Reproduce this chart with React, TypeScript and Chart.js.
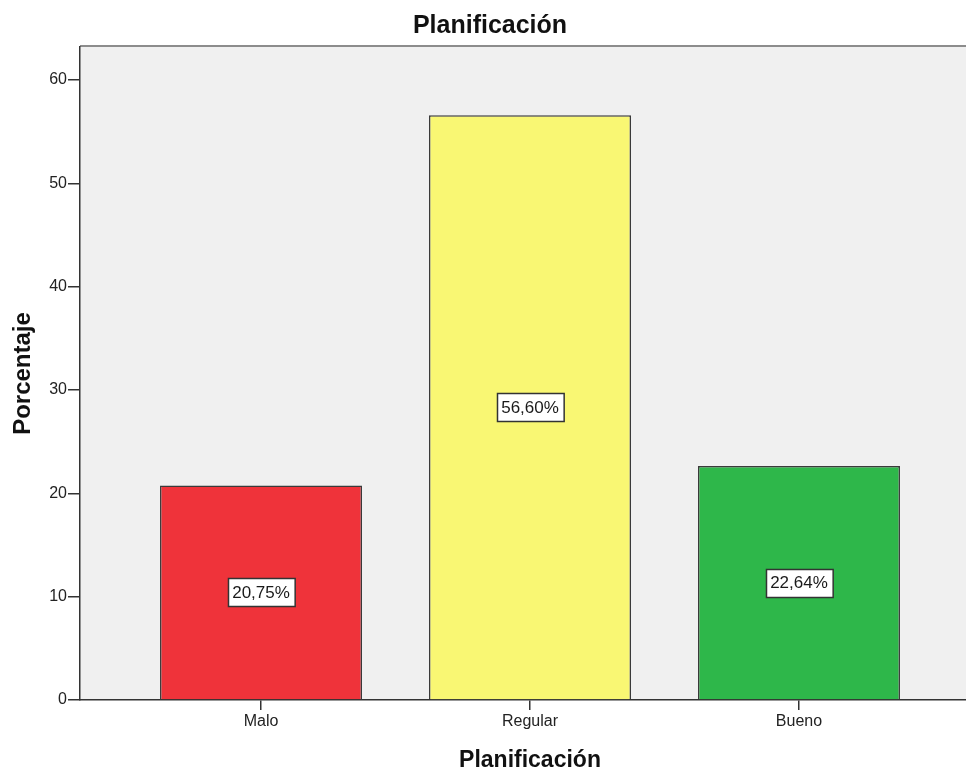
import React, { useEffect, useRef } from "react";
import { Chart, registerables } from "chart.js";

Chart.register(...registerables);

// Planificación: percentage of responses per rating
const categories = ["Malo", "Regular", "Bueno"];
const percentages = [20.75, 56.6, 22.64];
const barColors = ["#EF333A", "#F9F773", "#2EB74A"];
const yTicks = [0, 10, 20, 30, 40, 50, 60];

const FONT = "'Liberation Sans', Arial, sans-serif";

// the plot panel runs slightly past the right edge of the visible frame
const CANVAS_W = 980;
const VIEW_W = 966;
const VIEW_H = 772;

const formatPct = (v: number) => v.toFixed(2).replace(".", ",") + "%";

// grey plot panel with a soft top rule
const panelPlugin = {
  id: "panelBackground",
  beforeDraw(chart: any) {
    const { ctx, chartArea } = chart;
    if (!chartArea) return;
    ctx.save();
    ctx.fillStyle = "#F0F0F0";
    ctx.fillRect(chartArea.left, chartArea.top, chartArea.right - chartArea.left, chartArea.bottom - chartArea.top);
    ctx.strokeStyle = "#8C8C8C";
    ctx.lineWidth = 2;
    ctx.beginPath();
    ctx.moveTo(chartArea.left, chartArea.top - 1);
    ctx.lineTo(chartArea.right, chartArea.top - 1);
    ctx.stroke();
    ctx.restore();
  },
};

// boxed percentage label centred in each bar
const boxLabelPlugin = {
  id: "boxLabels",
  afterDatasetsDraw(chart: any) {
    const { ctx } = chart;
    const meta = chart.getDatasetMeta(0);
    ctx.save();
    ctx.font = `17px ${FONT}`;
    ctx.textAlign = "center";
    ctx.textBaseline = "middle";
    meta.data.forEach((bar: any, i: number) => {
      const { x, y, base } = bar.getProps(["x", "y", "base"], true);
      const text = formatPct(percentages[i]);
      const w = ctx.measureText(text).width + 9;
      const h = 28;
      const cy = (y + base) / 2;
      const left = Math.round(x - w / 2) + 0.5;
      const top = Math.round(cy - h / 2) + 0.5;
      ctx.fillStyle = "#FFFFFF";
      ctx.fillRect(left, top, w, h);
      ctx.strokeStyle = "#333333";
      ctx.lineWidth = 1.5;
      ctx.strokeRect(left, top, w, h);
      ctx.fillStyle = "#1A1A1A";
      ctx.fillText(text, x, cy + 1);
    });
    ctx.restore();
  },
};

export default function App() {
  const canvasRef = useRef<HTMLCanvasElement | null>(null);

  useEffect(() => {
    if (!canvasRef.current) return;
    const chart = new Chart(canvasRef.current, {
      type: "bar",
      data: {
        datasets: [
          {
            data: categories.map((_, i) => ({ x: i, y: percentages[i] })),
            backgroundColor: barColors,
            borderColor: "#3A3A3A",
            borderWidth: 1.5,
            categoryPercentage: 1,
            barPercentage: 0.751,
          },
        ],
      },
      options: {
        responsive: false,
        animation: false,
        layout: { padding: 0 },
        plugins: {
          legend: { display: false },
          tooltip: { enabled: false },
          title: {
            display: true,
            text: "Planificación",
            color: "#111111",
            font: { family: FONT, size: 25, weight: "bold", lineHeight: 1 },
            padding: { top: 14, bottom: 8 },
          },
        },
        scales: {
          x: {
            type: "linear",
            min: -0.673,
            max: 2.673,
            offset: false,
            afterBuildTicks: (scale: any) => {
              scale.ticks = categories.map((_, i) => ({ value: i }));
            },
            afterFit: (scale: any) => {
              scale.height = 72;
            },
            grid: {
              offset: false,
              drawOnChartArea: false,
              drawTicks: true,
              tickLength: 10,
              color: "#333333",
              lineWidth: 1.5,
            },
            border: { display: true, color: "#333333", width: 1.5 },
            ticks: {
              padding: 2,
              color: "#222222",
              font: { family: FONT, size: 16 },
              callback: (v: any) => categories[Number(v)] ?? "",
            },
            title: {
              display: true,
              text: "Planificación",
              color: "#111111",
              font: { family: FONT, size: 23, weight: "bold", lineHeight: 1 },
              padding: { top: 0, bottom: 0 },
            },
          },
          y: {
            min: 0,
            max: 63.2,
            afterBuildTicks: (scale: any) => {
              scale.ticks = yTicks.map((v) => ({ value: v }));
            },
            afterFit: (scale: any) => {
              scale.width = 80;
            },
            grid: {
              drawOnChartArea: false,
              drawTicks: true,
              tickLength: 12,
              color: "#333333",
              lineWidth: 1.5,
            },
            border: { display: true, color: "#333333", width: 1.5 },
            ticks: {
              padding: 1,
              color: "#222222",
              font: { family: FONT, size: 16 },
            },
            title: {
              display: true,
              text: "Porcentaje",
              color: "#111111",
              font: { family: FONT, size: 24, weight: "bold", lineHeight: 1 },
              padding: { top: 11, bottom: 0 },
            },
          },
        },
      },
      plugins: [panelPlugin, boxLabelPlugin],
    } as any);
    return () => chart.destroy();
  }, []);

  return (
    <div
      style={{
        position: "absolute",
        left: 0,
        top: 0,
        width: VIEW_W,
        height: VIEW_H,
        overflow: "hidden",
        background: "#FFFFFF",
      }}
    >
      <canvas ref={canvasRef} width={CANVAS_W} height={VIEW_H} style={{ display: "block" }} />
    </div>
  );
}
